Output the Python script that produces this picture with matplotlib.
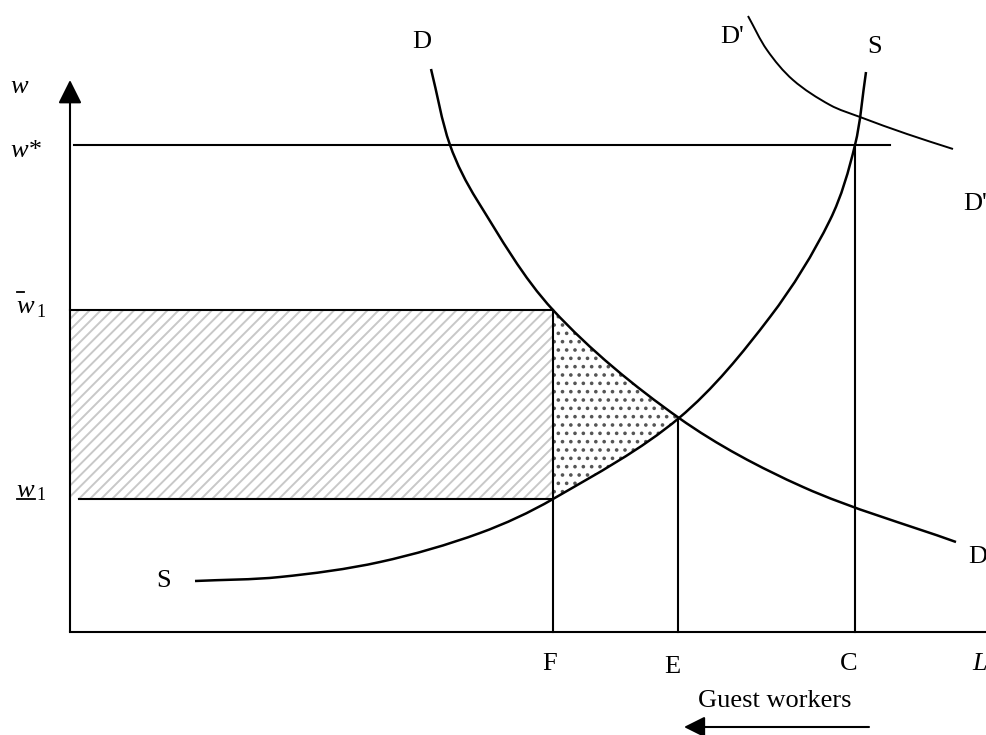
import matplotlib
matplotlib.use("Agg")
import matplotlib.pyplot as plt
import numpy as np
from matplotlib.patches import Rectangle, PathPatch
from matplotlib.path import Path

plt.rcParams['hatch.linewidth'] = 1.4

# ---- data (pixel coordinates, y downward) ----
D_x = [431, 450, 477, 553, 679, 803, 956]
D_y = [69, 145, 200, 310, 418, 487, 542]

S_x = [195, 280, 380, 480, 553, 679, 770, 830, 855, 866]
S_y = [581, 577, 562, 533, 499, 418, 317, 220, 145, 72]

Dp_x = [748, 767, 793, 830, 860, 907, 953]
Dp_y = [16, 50, 80, 105, 117, 134, 149]

origin = (70, 632)
w_star, w_bar, w_low = 145, 310, 499
F_x, E_x, C_x = 553, 678, 855
E_y = 418

fig = plt.figure(figsize=(9.87, 7.35), dpi=100)
ax = fig.add_axes([0, 0, 1, 1])
ax.set_xlim(0, 987)
ax.set_ylim(735, 0)
ax.axis('off')

FONT = 'Liberation Serif'
FS = 19
LW = 1.5


def bezier_pieces(xs, ys):
    """Cubic Bezier spline through the given points (chord-length scaled tangents)."""
    p = np.column_stack([xs, ys]).astype(float)
    n = len(p)
    d = np.hypot(*np.diff(p, axis=0).T)
    tang = np.zeros_like(p)
    for i in range(n):
        if i == 0:
            tang[i] = (p[1] - p[0]) / d[0]
        elif i == n - 1:
            tang[i] = (p[-1] - p[-2]) / d[-1]
        else:
            tang[i] = (p[i + 1] - p[i - 1]) / (d[i - 1] + d[i])
    verts = [p[0]]
    codes = [Path.MOVETO]
    for i in range(n - 1):
        c1 = p[i] + tang[i] * d[i] / 3.0
        c2 = p[i + 1] - tang[i + 1] * d[i] / 3.0
        verts += [c1, c2, p[i + 1]]
        codes += [Path.CURVE4] * 3
    return verts, codes


def draw_curve(xs, ys, lw):
    verts, codes = bezier_pieces(xs, ys)
    ax.add_patch(PathPatch(Path(verts, codes), facecolor='none', edgecolor='k',
                           lw=lw, zorder=4, capstyle='butt'))


# hatched rectangle
rect = Rectangle((origin[0], w_bar), F_x - origin[0], w_low - w_bar,
                 facecolor='white', edgecolor='#c8c8c8', linewidth=0, hatch='///', zorder=1)
ax.add_patch(rect)

# dotted region between D (above), S (below) and the F line:
# reuse the exact spline segments between F and E
dv, dc = bezier_pieces(D_x, D_y)
iF_d = D_x.index(F_x)
iE_d = D_x.index(679)
seg_d = dv[3 * iF_d: 3 * iE_d + 1]
sv, sc = bezier_pieces(S_x, S_y)
iF_s = S_x.index(F_x)
iE_s = S_x.index(679)
seg_s = sv[3 * iF_s: 3 * iE_s + 1][::-1]
verts = seg_d + seg_s[1:] + [seg_d[0]]
codes = ([Path.MOVETO] + [Path.CURVE4] * (len(seg_d) - 1)
         + [Path.CURVE4] * (len(seg_s) - 1) + [Path.CLOSEPOLY])
tri = PathPatch(Path(verts, codes), facecolor='white', edgecolor='#555555',
                linewidth=0, hatch='..', zorder=1)
ax.add_patch(tri)

# axes
ax.plot([origin[0], 987], [origin[1], origin[1]], color='k', lw=LW, zorder=3)
ax.annotate('', xy=(origin[0], 80), xytext=(origin[0], origin[1]),
            arrowprops=dict(arrowstyle='-|>', lw=LW, color='k', mutation_scale=36,
                            shrinkA=0, shrinkB=0), zorder=3)

# horizontal lines
ax.plot([74, 890], [w_star, w_star], color='k', lw=LW, zorder=3)
ax.plot([origin[0], F_x], [w_bar, w_bar], color='k', lw=LW, zorder=3)
ax.plot([79, F_x], [w_low, w_low], color='k', lw=LW, zorder=3)

# vertical lines
ax.plot([F_x, F_x], [w_bar, origin[1]], color='k', lw=LW, zorder=3)
ax.plot([E_x, E_x], [E_y, origin[1]], color='k', lw=LW, zorder=3)
ax.plot([C_x, C_x], [w_star, origin[1]], color='k', lw=LW, zorder=3)

# curves
draw_curve(D_x, D_y, 1.8)
draw_curve(S_x, S_y, 1.8)
draw_curve(Dp_x, Dp_y, 1.4)


def t(x, y, s, ha='center', style='normal', size=FS):
    ax.text(x, y, s, ha=ha, va='baseline', fontsize=size, family=FONT, style=style, zorder=5)


# curve labels
t(422, 48, 'D')
t(732, 43, "D'")
t(875, 53, 'S')
t(963, 210, "D'", ha='left')
t(968, 563, 'D', ha='left')
t(164, 587, 'S')

# x-axis labels
t(550, 670, 'F')
t(672, 673, 'E')
t(849, 670, 'C')
t(980, 670, 'L', style='italic')
t(775, 707, 'Guest workers')

# y-axis labels
t(10, 93, 'w', ha='left', style='italic')
t(10, 157, 'w*', ha='left', style='italic')
t(16, 313, 'w', ha='left', style='italic')
t(36, 317, '1', ha='left', size=13)
ax.plot([17, 24], [292, 292], color='k', lw=1.3)
t(16, 497, 'w', ha='left', style='italic')
t(36, 500, '1', ha='left', size=13)
ax.plot([17, 35], [499, 499], color='k', lw=1.3)

# guest worker arrow
ax.annotate('', xy=(684, 727), xytext=(869, 727),
            arrowprops=dict(arrowstyle='-|>', lw=LW, color='k', mutation_scale=32,
                            shrinkA=0, shrinkB=0))

fig.savefig('out.png', dpi=100)
